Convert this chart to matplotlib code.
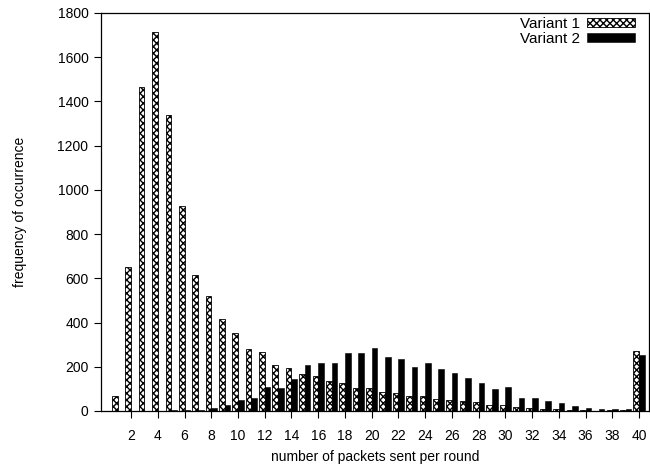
import numpy as np
import matplotlib.pyplot as plt

plt.rcParams['font.family'] = ['Liberation Sans', 'DejaVu Sans']

# packets sent per round: 1..40
packets = list(range(1, 41))

variant1 = [70, 650, 1467, 1712, 1340, 926, 617, 520, 414, 353,
            282, 267, 210, 195, 169, 159, 137, 128, 105, 105,
            87, 83, 69, 69, 56, 51, 45, 39, 27, 26,
            20, 15, 11, 11, 6, 6, 2, 5, 3, 272]

variant2 = [0, 0, 0, 1, 3, 4, 6, 15, 26, 48,
            59, 107, 105, 143, 207, 219, 219, 264, 264, 285,
            242, 237, 200, 219, 192, 170, 147, 125, 99, 108,
            60, 57, 45, 35, 21, 14, 9, 7, 7, 255]

tick_vals = list(range(2, 41, 2))
y_ticks = list(range(0, 1801, 200))

fig = plt.figure(figsize=(6.5, 4.71), dpi=100)
ax = fig.add_axes([101 / 650, 60 / 471, 548 / 650, 398 / 471])

x = np.array(packets)
w = 0.42
ax.bar(x - w / 2, variant1, width=w, color='white', edgecolor='black',
       hatch='xxxxx', linewidth=0.6, label='Variant 1')
ax.bar(x + w / 2, variant2, width=w, color='black', edgecolor='black',
       linewidth=0.4, label='Variant 2')

ax.set_xlim(-0.25, 40.75)
ax.set_ylim(0, 1800)
ax.set_xticks(tick_vals)
ax.set_yticks(y_ticks)
ax.tick_params(axis='both', labelsize=10, direction='out', length=5, width=0.8)
ax.tick_params(axis='x', pad=8)
ax.tick_params(axis='y', pad=4)
for s in ax.spines.values():
    s.set_linewidth(0.9)

ax.set_xlabel('number of packets sent per round', fontsize=10, labelpad=5)
ax.set_ylabel('frequency of occurrence', fontsize=10, labelpad=22)

ax.legend(loc='upper right', bbox_to_anchor=(0.985, 1.005), frameon=False,
          markerfirst=False, fontsize=11, handlelength=3.1, handleheight=0.55,
          labelspacing=0.05, borderaxespad=0, handletextpad=0.5)

fig.savefig('out.png', dpi=100)
